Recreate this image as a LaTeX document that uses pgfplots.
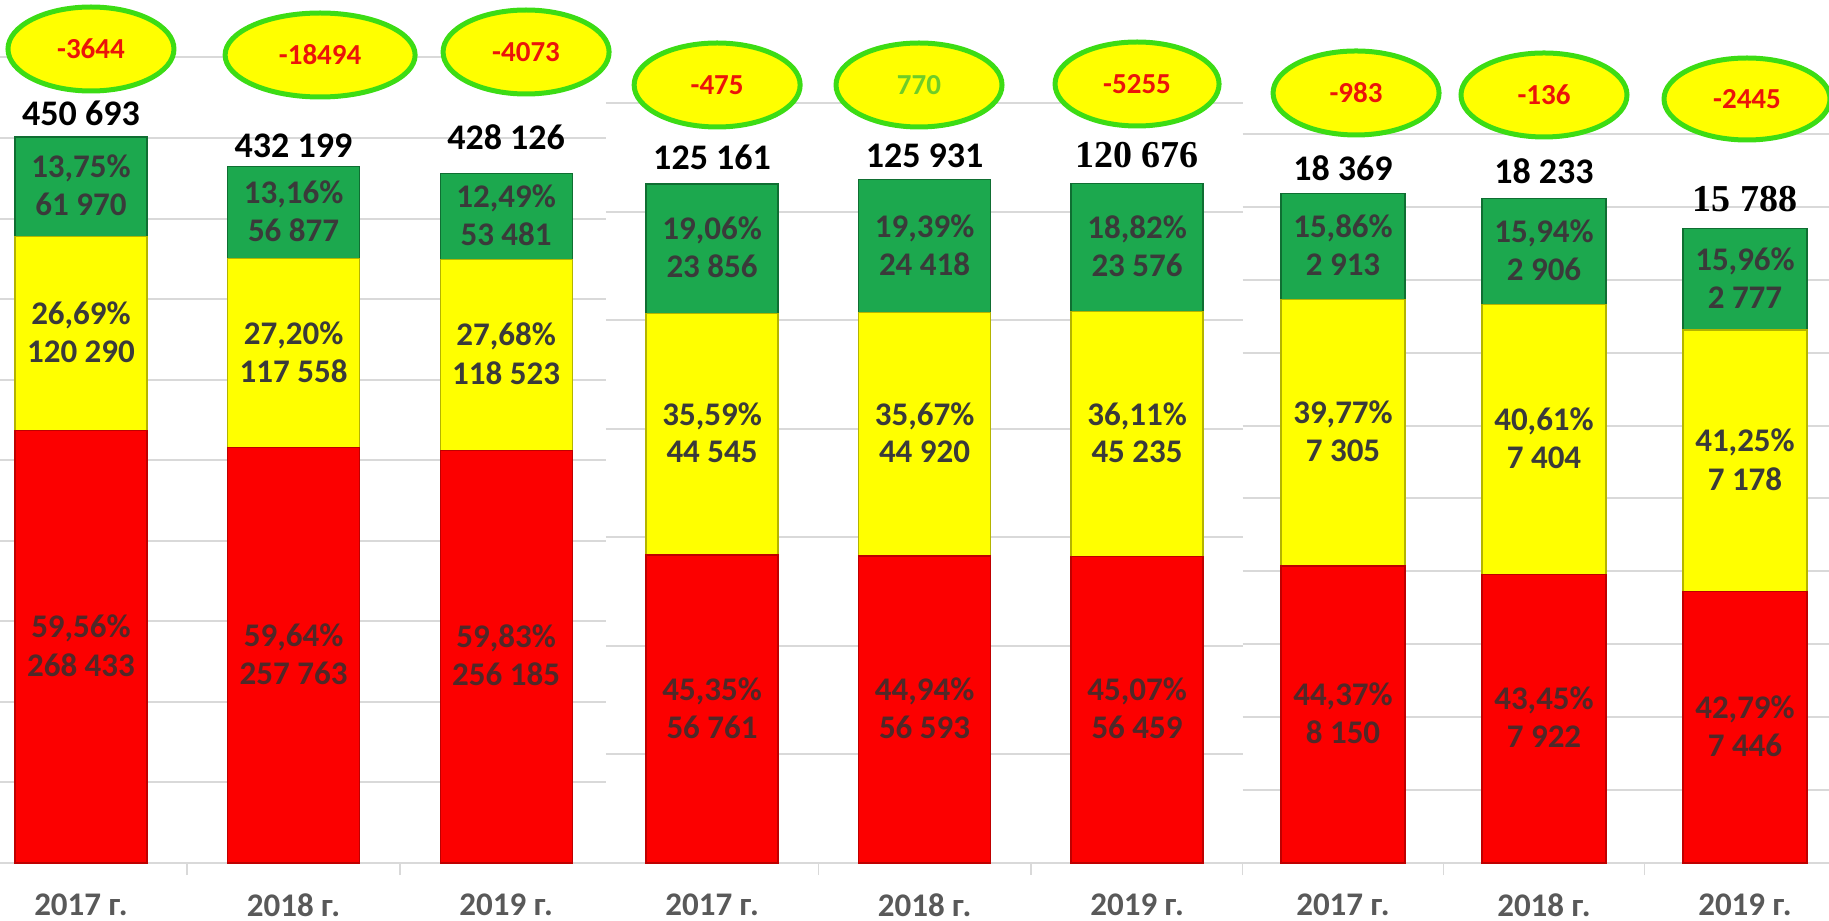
\documentclass[border=0pt]{standalone}
\usepackage{pgfplots}
\pgfplotsset{compat=1.18}
\usepackage{fontspec}
\setmainfont{Carlito}
\newfontfamily\tnr{Liberation Serif}
\usetikzlibrary{shapes.geometric}
\definecolor{cRed}{RGB}{252,0,0}
\definecolor{cRedD}{RGB}{190,0,0}
\definecolor{cYel}{RGB}{255,255,0}
\definecolor{cYelD}{RGB}{180,180,0}
\definecolor{cGrn}{RGB}{28,168,78}
\definecolor{cGrnD}{RGB}{15,110,50}
\definecolor{txtG}{RGB}{58,58,58}
\definecolor{txtR}{RGB}{80,40,40}
\definecolor{yearc}{RGB}{89,89,89}
\definecolor{gridc}{RGB}{217,217,217}
\definecolor{eLine}{RGB}{60,220,20}
\definecolor{eRed}{RGB}{235,20,10}
\definecolor{eGrn}{RGB}{110,205,40}
\pgfplotsset{grp/.style={
  scale only axis, height=431.5bp, ymin=0, clip=false,
  axis lines*=left,
  y axis line style={draw=none},
  x axis line style={draw=gridc, line width=1bp},
  ymajorgrids, grid style={draw=gridc, line width=1bp},
  scaled y ticks=false, yticklabels={}, ytick style={draw=none},
  xtick={0,1,2}, xticklabels={2017 г.,2018 г.,2019 г.},
  major tick length=0pt, minor tick length=6bp, tick align=outside,
  minor tick style={draw=gridc, line width=0.8bp},
  xticklabel style={anchor=center, yshift=-21bp, font=\bfseries\fontsize{16.5bp}{16.5bp}\selectfont, text=yearc},
  ybar stacked,
}}
\tikzset{
  segl/.style={font=\bfseries\fontsize{16.5bp}{16.5bp}\selectfont, inner sep=0pt, anchor=center},
  tot/.style={font=\bfseries\fontsize{18bp}{18bp}\selectfont, text=black, anchor=center, inner sep=0pt},
  totT/.style={font=\tnr\bfseries\fontsize{19bp}{19bp}\selectfont, text=black, anchor=center, inner sep=0pt},
  ell/.style={ellipse, draw=eLine, line width=2.5bp, fill=cYel, inner sep=0pt, minimum width=83bp, minimum height=42bp, font=\bfseries\fontsize{14.5bp}{14.5bp}\selectfont, text=eRed},
}
% label drawn after the axes, at a coordinate named inside the axis
\newcommand\segat[4]{%
  \node[segl, text=#4, yshift=9bp] at (#1) {#2};
  \node[segl, text=#4, yshift=-9bp] at (#1) {#3};}
\begin{document}
\begin{tikzpicture}
\useasboundingbox (0,0) rectangle (914.5bp,460.5bp);
% ---------- Group 1 ----------
\begin{axis}[grp, at={(0bp,29bp)}, anchor=south west, width=303bp,
  xmin=-0.381, xmax=2.47, ymax=535692, ytick={0,50000,...,500000},
  minor xtick={0.5,1.5}, bar width=66bp]
\addplot[fill=cRed, draw=cRedD, line width=0.6bp] coordinates {(0,268433) (1,257763) (2,256185)};
\addplot[fill=cYel, draw=cYelD, line width=0.6bp] coordinates {(0,120290) (1,117558) (2,118523)};
\addplot[fill=cGrn, draw=cGrnD, line width=0.6bp] coordinates {(0,61970) (1,56877) (2,53481)};
\coordinate (a0r) at (axis cs:0,134216);
\coordinate (a0y) at (axis cs:0,328578);
\coordinate (a0g) at (axis cs:0,419708);
\coordinate (a1r) at (axis cs:1,128881);
\coordinate (a1y) at (axis cs:1,316542);
\coordinate (a1g) at (axis cs:1,403760);
\coordinate (a2r) at (axis cs:2,128092);
\coordinate (a2y) at (axis cs:2,315446);
\coordinate (a2g) at (axis cs:2,401448);
\node[tot, yshift=12bp] at (axis cs:0,450693) {450 693};
\node[tot, yshift=10.5bp] at (axis cs:1,432198) {432 199};
\node[tot, yshift=18bp] at (axis cs:2,428189) {428 126};
\node[ell] at (axis cs:0.047,505274) {-3644};
\node[ell, minimum width=95bp] at (axis cs:1.125,501550) {-18494};
\node[ell] at (axis cs:2.094,503412) {-4073};
\end{axis}
% ---------- Group 2 ----------
\begin{axis}[grp, at={(302.9bp,29bp)}, anchor=south west, width=318.75bp,
  xmin=-0.5, xmax=2.5, ymax=159078, ytick={0,20000,...,140000},
  minor xtick={0.5,1.5}, bar width=66bp]
\addplot[fill=cRed, draw=cRedD, line width=0.6bp] coordinates {(0,56761) (1,56593) (2,56459)};
\addplot[fill=cYel, draw=cYelD, line width=0.6bp] coordinates {(0,44545) (1,44920) (2,45235)};
\addplot[fill=cGrn, draw=cGrnD, line width=0.6bp] coordinates {(0,23856) (1,24418) (2,23576)};
\coordinate (b0r) at (axis cs:0,28380);
\coordinate (b0y) at (axis cs:0,79033);
\coordinate (b0g) at (axis cs:0,113234);
\coordinate (b1r) at (axis cs:1,28296);
\coordinate (b1y) at (axis cs:1,79053);
\coordinate (b1g) at (axis cs:1,113722);
\coordinate (b2r) at (axis cs:2,28229);
\coordinate (b2y) at (axis cs:2,79076);
\coordinate (b2g) at (axis cs:2,113482);
\node[tot, yshift=13.5bp] at (axis cs:0,125162) {125 161};
\node[tot, yshift=12bp] at (axis cs:1,125931) {125 931};
\node[totT, yshift=14bp] at (axis cs:2,125270) {120 676};
\node[ell] at (axis cs:0.024,143409) {-475};
\node[ell, text=eGrn] at (axis cs:0.974,143409) {770};
\node[ell, minimum width=82bp] at (axis cs:2.0,143593) {-5255};
\end{axis}
% ---------- Group 3 ----------
\begin{axis}[grp, at={(621.25bp,29bp)}, anchor=south west, width=293.25bp,
  xmin=-0.5, xmax=2.418, ymax=23676, ytick={0,2000,...,20000},
  minor xtick={-0.5,0.5,1.5}, bar width=62bp]
\addplot[fill=cRed, draw=cRedD, line width=0.6bp] coordinates {(0,8150) (1,7922) (2,7446)};
\addplot[fill=cYel, draw=cYelD, line width=0.6bp] coordinates {(0,7305) (1,7404) (2,7178)};
\addplot[fill=cGrn, draw=cGrnD, line width=0.6bp] coordinates {(0,2913) (1,2906) (2,2777)};
\coordinate (c0r) at (axis cs:0,4075);
\coordinate (c0y) at (axis cs:0,11802);
\coordinate (c0g) at (axis cs:0,16911);
\coordinate (c1r) at (axis cs:1,3961);
\coordinate (c1y) at (axis cs:1,11624);
\coordinate (c1g) at (axis cs:1,16779);
\coordinate (c2r) at (axis cs:2,3723);
\coordinate (c2y) at (axis cs:2,11035);
\coordinate (c2g) at (axis cs:2,16012);
\node[tot, yshift=12.5bp] at (axis cs:0,18368) {18 369};
\node[tot, yshift=13.5bp] at (axis cs:1,18232) {18 233};
\node[totT, yshift=15bp] at (axis cs:2,17401) {15 788};
\node[ell] at (axis cs:0.065,21125) {-983};
\node[ell] at (axis cs:1.0,21070) {-136};
\node[ell, minimum height=41bp] at (axis cs:2.01,20960) {-2445};
\end{axis}
% ---------- segment labels ----------
\segat{a0r}{59,56\%}{268 433}{txtR}
\segat{a0y}{26,69\%}{120 290}{txtG}
\segat{a0g}{13,75\%}{61 970}{txtG}
\segat{a1r}{59,64\%}{257 763}{txtR}
\segat{a1y}{27,20\%}{117 558}{txtG}
\segat{a1g}{13,16\%}{56 877}{txtG}
\segat{a2r}{59,83\%}{256 185}{txtR}
\segat{a2y}{27,68\%}{118 523}{txtG}
\segat{a2g}{12,49\%}{53 481}{txtG}
\segat{b0r}{45,35\%}{56 761}{txtR}
\segat{b0y}{35,59\%}{44 545}{txtG}
\segat{b0g}{19,06\%}{23 856}{txtG}
\segat{b1r}{44,94\%}{56 593}{txtR}
\segat{b1y}{35,67\%}{44 920}{txtG}
\segat{b1g}{19,39\%}{24 418}{txtG}
\segat{b2r}{45,07\%}{56 459}{txtR}
\segat{b2y}{36,11\%}{45 235}{txtG}
\segat{b2g}{18,82\%}{23 576}{txtG}
\segat{c0r}{44,37\%}{8 150}{txtR}
\segat{c0y}{39,77\%}{7 305}{txtG}
\segat{c0g}{15,86\%}{2 913}{txtG}
\segat{c1r}{43,45\%}{7 922}{txtR}
\segat{c1y}{40,61\%}{7 404}{txtG}
\segat{c1g}{15,94\%}{2 906}{txtG}
\segat{c2r}{42,79\%}{7 446}{txtR}
\segat{c2y}{41,25\%}{7 178}{txtG}
\segat{c2g}{15,96\%}{2 777}{txtG}
\end{tikzpicture}
\end{document}
